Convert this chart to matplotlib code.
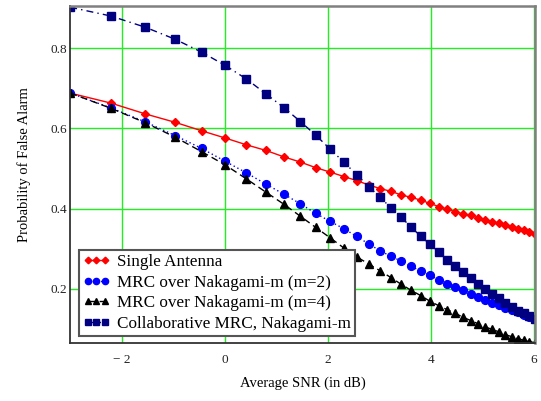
import numpy as np
import matplotlib
matplotlib.use("Agg")
import matplotlib.pyplot as plt
from matplotlib.ticker import FuncFormatter

# linear SNR grid used in the figure (shown in dB on the x axis)
snr_lin = [0.5, 0.6, 0.7, 0.8, 0.9, 1.0, 1.1, 1.2, 1.3, 1.4, 1.5, 1.6,
           1.7, 1.8, 1.9, 2.0, 2.1, 2.2, 2.3, 2.4, 2.5, 2.6, 2.7, 2.8,
           2.9, 3.0, 3.1, 3.2, 3.3, 3.4, 3.5, 3.6, 3.7, 3.8, 3.9, 4.0]

# Probability of false alarm
pfa_single = [0.688, 0.663, 0.636, 0.615, 0.594, 0.576, 0.559, 0.545, 0.529,
              0.516, 0.502, 0.491, 0.480, 0.470, 0.459, 0.450, 0.443, 0.434,
              0.428, 0.421, 0.413, 0.405, 0.399, 0.392, 0.387, 0.383, 0.377,
              0.372, 0.367, 0.363, 0.358, 0.354, 0.350, 0.346, 0.342, 0.337]
pfa_mrc_m2 = [0.688, 0.651, 0.616, 0.582, 0.550, 0.518, 0.489, 0.461, 0.436,
              0.412, 0.388, 0.368, 0.350, 0.331, 0.312, 0.295, 0.281, 0.269,
              0.256, 0.244, 0.234, 0.222, 0.212, 0.204, 0.196, 0.188, 0.179,
              0.171, 0.165, 0.159, 0.152, 0.147, 0.142, 0.135, 0.130, 0.126]
pfa_mrc_m4 = [0.688, 0.650, 0.614, 0.578, 0.542, 0.509, 0.474, 0.441, 0.411,
              0.381, 0.353, 0.327, 0.302, 0.280, 0.262, 0.245, 0.228, 0.211,
              0.196, 0.183, 0.169, 0.158, 0.148, 0.139, 0.129, 0.121, 0.113,
              0.105, 0.099, 0.093, 0.086, 0.081, 0.076, 0.072, 0.068, 0.066]
pfa_collab = [0.902, 0.880, 0.852, 0.822, 0.790, 0.757, 0.723, 0.686, 0.652,
              0.617, 0.583, 0.548, 0.516, 0.485, 0.455, 0.428, 0.402, 0.378,
              0.353, 0.331, 0.311, 0.291, 0.272, 0.258, 0.241, 0.226, 0.212,
              0.199, 0.188, 0.177, 0.165, 0.155, 0.146, 0.139, 0.132, 0.125]

labels = ["Single Antenna", "MRC over Nakagami-m (m=2)",
          "MRC over Nakagami-m (m=4)", "Collaborative MRC, Nakagami-m"]

snr_db = 10 * np.log10(np.array(snr_lin))

plt.rcParams['font.family'] = ['Liberation Serif', 'DejaVu Serif']

fig = plt.figure(figsize=(5.41, 4.01), dpi=100)
ax = fig.add_axes([0.1298, 0.1446, 0.8592, 0.8404])

ax.plot(snr_db, pfa_single, color='#ff0000', ls='-', lw=1.0,
        marker='D', ms=4.2, label=labels[0])
ax.plot(snr_db, pfa_mrc_m2, color='#0000ff', ls=(0, (1, 2)), lw=1.0,
        marker='o', ms=5.6, label=labels[1])
ax.plot(snr_db, pfa_mrc_m4, color='black', ls=(0, (5, 3)), lw=1.0,
        marker='^', ms=5.6, label=labels[2])
ax.plot(snr_db, pfa_collab, color='#000080', ls=(0, (5, 3, 1, 3)), lw=1.0,
        marker='s', ms=5.3, label=labels[3])

ax.set_xlim(-3.01, 6.02)
ax.set_ylim(0.065, 0.905)
ax.set_xticks([-2, 0, 2, 4, 6])
ax.set_yticks([0.2, 0.4, 0.6, 0.8])
ax.xaxis.set_major_formatter(FuncFormatter(
    lambda v, p: "\u2212 %d" % abs(v) if v < 0 else "%d" % v))
ax.yaxis.set_major_formatter(FuncFormatter(lambda v, p: "%.1f" % v))
ax.tick_params(length=0, labelsize=9.5, colors='#222222')
ax.tick_params(axis='x', pad=8)
ax.tick_params(axis='y', pad=2)

ax.grid(True, color='#22ee22', lw=1.0)
ax.set_axisbelow(True)

for side in ['left', 'bottom']:
    ax.spines[side].set_color('#333333')
    ax.spines[side].set_linewidth(1.3)
for side in ['top', 'right']:
    ax.spines[side].set_color('#808080')
    ax.spines[side].set_linewidth(1.8)

ax.set_xlabel("Average SNR (in dB)", fontsize=10.5)
ax.set_ylabel("Probability of False Alarm", fontsize=10.5)
ax.xaxis.set_label_coords(0.5, -0.098)
ax.yaxis.set_label_coords(-0.084, 0.531)

leg = ax.legend(loc='upper left', bbox_to_anchor=(0.146, 0.377),
                bbox_transform=fig.transFigure, borderaxespad=0,
                fontsize=12.3, numpoints=3, handlelength=1.55,
                handletextpad=0.4, labelspacing=0.27, borderpad=0.25,
                fancybox=False, framealpha=1, markerscale=0.8)
leg.get_frame().set_edgecolor('#555555')
leg.get_frame().set_linewidth(1.5)

plt.savefig("out.png", dpi=100)
